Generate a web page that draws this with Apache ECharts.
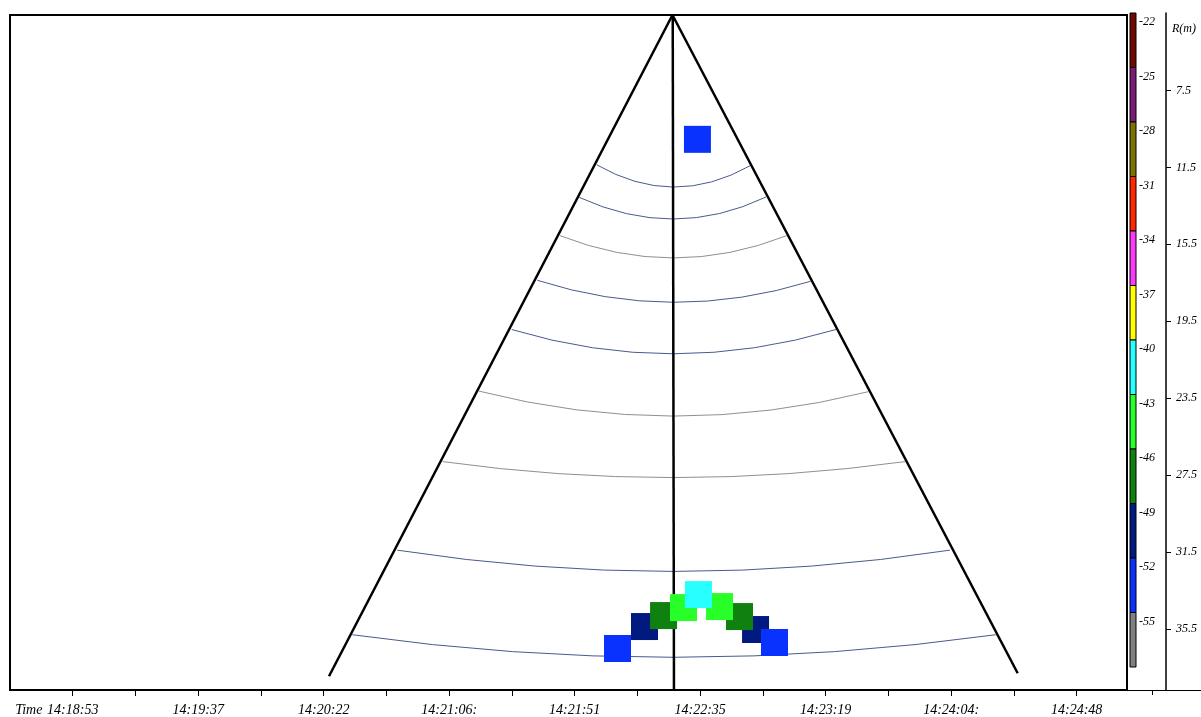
<!DOCTYPE html>
<html><head><meta charset="utf-8">
<script src="https://cdn.jsdelivr.net/npm/echarts@6/dist/echarts.min.js"></script>
<style>html,body{margin:0;padding:0;background:#fff}#c{width:1201px;height:717px}</style>
</head><body><div id="c"></div>
<script>
// ---- data ----
const timeLabels = ['14:18:53','14:19:37','14:20:22','14:21:06:','14:21:51','14:22:35','14:23:19','14:24:04:','14:24:48'];
const rangeTicks = [7.5, 11.5, 15.5, 19.5, 23.5, 27.5, 31.5, 35.5];
const levelLabels = ['-22','-25','-28','-31','-34','-37','-40','-43','-46','-49','-52','-55'];
const levelColors = ['#6e0a00','#781e78','#7d7300','#ff2800','#fa3cfa','#ffff00','#28ffff','#28ff28','#108010','#001a80','#0a32ff','#808080'];
// fan edges: [time1, R1, time2, R2]
const fanEdges = [
  [4.779, 3.58, 2.042, 38.005],
  [4.779, 3.58, 7.530, 37.849],
  [4.781, 3.58, 4.791, 38.72]
];
// range rings: [tLeft, RLeft, tMid, RMid, tRight, RRight, tone]
const rangeRings = [
  [4.175, 11.378, 4.786, 12.537, 5.397, 11.430, 0],
  [4.037, 13.077, 4.786, 14.200, 5.524, 13.057, 0],
  [3.883, 15.068, 4.786, 16.227, 5.689, 15.068, 1],
  [3.702, 17.391, 4.786, 18.535, 5.880, 17.443, 0],
  [3.498, 19.954, 4.786, 21.217, 6.082, 19.954, 0],
  [3.237, 23.161, 4.786, 24.460, 6.339, 23.192, 1],
  [2.948, 26.830, 4.786, 27.662, 6.632, 26.830, 1],
  [2.586, 31.440, 4.786, 32.547, 6.990, 31.440, 0],
  [2.228, 35.843, 4.786, 37.017, 7.355, 35.843, 0]
];
// echoes: [time, R, level dB]
const echoes = [
  [4.341, 36.560, -53],
  [4.556, 35.416, -50],
  [5.441, 35.572, -50],
  [5.592, 36.248, -53],
  [4.708, 34.845, -47],
  [5.313, 34.897, -47],
  [4.867, 34.429, -44],
  [5.154, 34.377, -44],
  [4.986, 33.753, -41],
  [4.978, 10.053, -53]
];

// ---- chart ----
const ringTones = ['#4a5b8c', '#8e8e96'];
const font = {fontFamily: 'Liberation Serif', fontStyle: 'italic', color: '#000'};
const tickHalf = [];
for (let k = 0; k <= (timeLabels.length - 1) * 2; k++) tickHalf.push(k / 2);
const pieces = levelColors.map((c, k) => ({min: -22 - 3 * (k + 1), max: -22 - 3 * k, color: c}));

const chart = echarts.init(document.getElementById('c'));
chart.setOption({
  animation: false,
  backgroundColor: '#fff',
  textStyle: font,
  grid: [
    {left: 10, top: 15, right: 74, bottom: 26, show: true, borderColor: '#000', borderWidth: 2, backgroundColor: '#fff'},
    {left: 1130, top: 13, width: 6, height: 654},
    {left: 1127, top: 13, right: 0, bottom: 27}
  ],
  xAxis: [
    {gridIndex: 0, type: 'value', min: -0.5, max: 8.401,
     axisLine: {show: true, lineStyle: {color: '#000', width: 2}},
     axisTick: {show: true, length: 6, lineStyle: {color: '#000', width: 1}, customValues: tickHalf},
     splitLine: {show: false},
     axisLabel: {customValues: timeLabels.map((_, i) => i), margin: 13, fontSize: 14, lineHeight: 14,
       fontFamily: 'Liberation Serif', fontStyle: 'italic', color: '#000',
       formatter: function (v) {
         const i = Math.round(v);
         if (i === 0) return '{a|Time }{b|' + timeLabels[0] + '}{c| }';
         return timeLabels[i];
       },
       rich: {
         a: {width: 33, fontSize: 14, fontFamily: 'Liberation Serif', fontStyle: 'italic', color: '#000'},
         b: {fontSize: 14, fontFamily: 'Liberation Serif', fontStyle: 'italic', color: '#000'},
         c: {width: 33, fontSize: 14}
       }
     }},
    {gridIndex: 1, type: 'value', min: 0, max: 1, show: false},
    {gridIndex: 2, type: 'value', min: 0, max: 74,
     axisLine: {show: true, lineStyle: {color: '#000', width: 1}},
     axisTick: {show: true, length: 5, customValues: [25], lineStyle: {color: '#000'}},
     axisLabel: {show: false}, splitLine: {show: false}}
  ],
  yAxis: [
    {gridIndex: 0, type: 'value', inverse: true, min: 3.58, max: 38.72, show: false},
    {gridIndex: 1, type: 'value', inverse: true, min: 0, max: 12, position: 'right',
     axisLine: {show: false}, axisTick: {show: false}, splitLine: {show: false},
     axisLabel: {customValues: levelLabels.map((_, i) => i), formatter: v => levelLabels[Math.round(v)],
       margin: 3, fontSize: 12, lineHeight: 12, verticalAlign: 'top', padding: [3, 0, 0, 0],
       fontFamily: 'Liberation Serif', fontStyle: 'italic', color: '#000'}},
    {gridIndex: 2, type: 'value', inverse: true, min: 3.478, max: 38.665, position: 'left', offset: -39,
     name: 'R(m)', nameLocation: 'start', nameGap: -22,
     nameTextStyle: {fontSize: 12, fontFamily: 'Liberation Serif', fontStyle: 'italic', color: '#000', align: 'left', padding: [0, 0, 0, 6]},
     axisLine: {show: true, lineStyle: {color: '#000', width: 1.5}},
     axisTick: {show: true, inside: true, length: 5, customValues: rangeTicks, lineStyle: {color: '#000'}},
     axisLabel: {inside: true, customValues: rangeTicks, margin: 10, fontSize: 12,
       formatter: v => v.toFixed(1),
       fontFamily: 'Liberation Serif', fontStyle: 'italic', color: '#000'},
     splitLine: {show: false}}
  ],
  visualMap: {type: 'piecewise', show: false, seriesIndex: 2, dimension: 2, pieces: pieces},
  series: [
    {type: 'custom', xAxisIndex: 0, yAxisIndex: 0, data: rangeRings, encode: {x: [0, 2, 4], y: [1, 3, 5]}, silent: true,
     renderItem: function (params, api) {
       const L = api.coord([api.value(0), api.value(1)]);
       const M = api.coord([api.value(2), api.value(3)]);
       const R = api.coord([api.value(4), api.value(5)]);
       const cx = 2 * M[0] - (L[0] + R[0]) / 2, cy = 2 * M[1] - (L[1] + R[1]) / 2;
       return {type: 'bezierCurve', shape: {x1: L[0], y1: L[1], x2: R[0], y2: R[1], cpx1: cx, cpy1: cy},
         style: {stroke: ringTones[api.value(6)], lineWidth: 1, fill: 'none'}};
     }},
    {type: 'custom', xAxisIndex: 0, yAxisIndex: 0, data: fanEdges, encode: {x: [0, 2], y: [1, 3]}, silent: true, z: 3,
     renderItem: function (params, api) {
       const a = api.coord([api.value(0), api.value(1)]);
       const b = api.coord([api.value(2), api.value(3)]);
       return {type: 'line', shape: {x1: a[0], y1: a[1], x2: b[0], y2: b[1]},
         style: {stroke: '#000', lineWidth: 2.5, fill: 'none'}};
     }},
    {type: 'scatter', xAxisIndex: 0, yAxisIndex: 0, data: echoes, symbol: 'rect', symbolSize: 27, z: 4,
     encode: {x: 0, y: 1}, itemStyle: {opacity: 1}},
    {type: 'custom', xAxisIndex: 1, yAxisIndex: 1, data: levelColors.map((_, k) => [k]), encode: {y: 0}, silent: true,
     renderItem: function (params, api) {
       const k = api.value(0);
       const p0 = api.coord([0, k]);
       const p1 = api.coord([1, k + 1]);
       return {type: 'rect', shape: {x: p0[0], y: p0[1], width: p1[0] - p0[0], height: p1[1] - p0[1]},
         style: {fill: levelColors[params.dataIndex], stroke: '#000', lineWidth: 1}};
     }}
  ]
});
</script>
</body></html>
